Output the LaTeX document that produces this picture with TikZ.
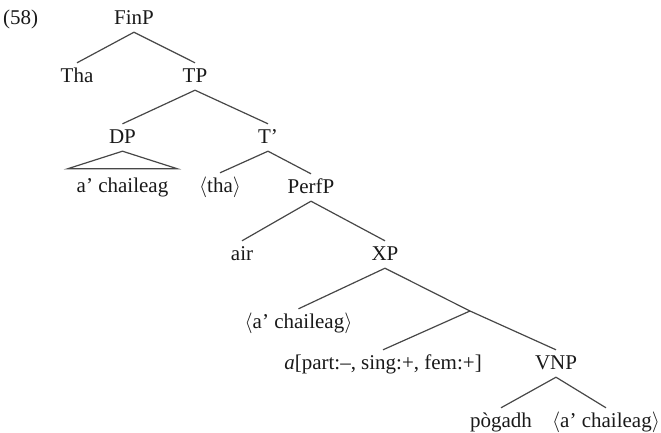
\documentclass[tikz,border=0pt]{standalone}
\usepackage{fontspec}
\setmainfont{Liberation Serif}
\begin{document}
\begin{tikzpicture}[x=1pt,y=-1pt,
  lbl/.style={anchor=base,inner xsep=0pt,inner ysep=4pt,text height=15pt,text depth=4pt,text=black!90,
    font=\fontsize{21pt}{25pt}\selectfont},
  edge/.style={draw=black!72,line width=1.2pt}]
\useasboundingbox (0,0) rectangle (661,432);
\node[lbl,anchor=base west] (ex) at (3,24) {(58)};
\node[lbl] (FinP) at (134,24) {FinP};
\node[lbl] (Tha) at (77,82) {Tha};
\node[lbl] (TP) at (195,82) {TP};
\node[lbl] (DP) at (122.5,143) {DP};
\node[lbl] (Tbar) at (268,143) {T'};
\node[lbl] (dpt) at (122.5,192) {a' chaileag};
\node[lbl] (tha) at (220,192) {$\langle$tha$\rangle$};
\node[lbl] (PerfP) at (311,193) {PerfP};
\node[lbl] (air) at (242,260) {air};
\node[lbl] (XP) at (385,260) {XP};
\node[lbl] (ach1) at (298.5,328) {$\langle$a' chaileag$\rangle$};
\coordinate (Xbar) at (470,311);
\node[lbl] (agr) at (383,369) {\textit{a}[part:--, sing:+, fem:+]};
\node[lbl] (VNP) at (556,369) {VNP};
\node[lbl] (pog) at (501,427) {pògadh};
\node[lbl] (ach2) at (606,427) {$\langle$a' chaileag$\rangle$};
\draw[edge] (FinP.south) -- (Tha.north);
\draw[edge] (FinP.south) -- (TP.north);
\draw[edge] (TP.south) -- (DP.north);
\draw[edge] (TP.south) -- (Tbar.north);
\draw[edge] (DP.south) -- ([shift={(-9pt,4pt)}]dpt.north west) -- ([shift={(9pt,4pt)}]dpt.north east) -- cycle;
\draw[edge] (Tbar.south) -- (tha.north);
\draw[edge] (Tbar.south) -- (PerfP.north);
\draw[edge] (PerfP.south) -- (air.north);
\draw[edge] (PerfP.south) -- (XP.north);
\draw[edge] (XP.south) -- (ach1.north);
\draw[edge] (XP.south) -- (Xbar) -- (VNP.north);
\draw[edge] (Xbar) -- (agr.north);
\draw[edge] (VNP.south) -- (pog.north);
\draw[edge] (VNP.south) -- (ach2.north);
\end{tikzpicture}
\end{document}
